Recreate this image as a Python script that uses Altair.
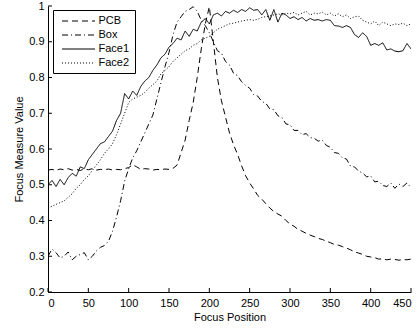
import altair as alt
import pandas as pd

# Focus positions (sampled every 5 units)
positions = list(range(0, 455, 5))

series_names = ["PCB", "Box", "Face1", "Face2"]

pcb = [0.541, 0.543, 0.540, 0.544, 0.542, 0.545, 0.541, 0.543, 0.540, 0.544,
       0.542, 0.545, 0.541, 0.543, 0.542, 0.544, 0.541, 0.543, 0.542, 0.545,
       0.548, 0.556, 0.550, 0.543, 0.545, 0.544, 0.541, 0.543, 0.542, 0.544,
       0.543, 0.546, 0.555, 0.590, 0.625, 0.680, 0.730, 0.800, 0.880, 0.950,
       0.998, 0.900, 0.800, 0.735, 0.690, 0.645, 0.612, 0.585, 0.553, 0.525,
       0.505, 0.488, 0.470, 0.460, 0.447, 0.435, 0.425, 0.418, 0.412, 0.400,
       0.390, 0.384, 0.375, 0.370, 0.364, 0.359, 0.355, 0.350, 0.347, 0.342,
       0.338, 0.333, 0.331, 0.327, 0.323, 0.318, 0.312, 0.309, 0.305, 0.300,
       0.298, 0.296, 0.292, 0.293, 0.290, 0.292, 0.291, 0.289, 0.291, 0.290,
       0.292]

box = [0.300, 0.320, 0.310, 0.295, 0.300, 0.312, 0.290, 0.300, 0.305, 0.310,
       0.290, 0.300, 0.315, 0.325, 0.330, 0.342, 0.370, 0.410, 0.455, 0.510,
       0.545, 0.575, 0.595, 0.620, 0.645, 0.670, 0.695, 0.740, 0.785, 0.830,
       0.870, 0.920, 0.955, 0.970, 0.985, 0.990, 0.998, 0.985, 0.960, 0.945,
       0.925, 0.900, 0.875, 0.868, 0.845, 0.835, 0.812, 0.805, 0.788, 0.778,
       0.770, 0.752, 0.748, 0.733, 0.728, 0.712, 0.710, 0.693, 0.688, 0.670,
       0.668, 0.652, 0.652, 0.640, 0.643, 0.632, 0.630, 0.622, 0.625, 0.610,
       0.605, 0.590, 0.588, 0.575, 0.572, 0.552, 0.550, 0.538, 0.533, 0.522,
       0.525, 0.508, 0.510, 0.498, 0.495, 0.505, 0.490, 0.502, 0.495, 0.505,
       0.492]

face1 = [0.500, 0.512, 0.495, 0.515, 0.500, 0.520, 0.532, 0.524, 0.550, 0.545,
         0.570, 0.585, 0.600, 0.615, 0.620, 0.635, 0.650, 0.680, 0.700, 0.755,
         0.740, 0.762, 0.750, 0.775, 0.790, 0.800, 0.820, 0.835, 0.855, 0.865,
         0.885, 0.895, 0.910, 0.905, 0.930, 0.915, 0.935, 0.930, 0.955, 0.965,
         0.950, 0.975, 0.980, 0.972, 0.985, 0.980, 0.988, 0.982, 0.990, 0.985,
         0.995, 0.988, 0.990, 0.975, 0.990, 0.960, 0.990, 0.955, 0.980, 0.975,
         0.965, 0.970, 0.962, 0.968, 0.958, 0.965, 0.960, 0.962, 0.958, 0.962,
         0.960, 0.945, 0.944, 0.940, 0.945, 0.940, 0.920, 0.912, 0.925, 0.915,
         0.890, 0.895, 0.890, 0.897, 0.877, 0.880, 0.874, 0.872, 0.875, 0.895,
         0.880]

face2 = [0.435, 0.440, 0.445, 0.450, 0.455, 0.465, 0.475, 0.490, 0.500, 0.515,
         0.525, 0.540, 0.555, 0.570, 0.588, 0.600, 0.615, 0.640, 0.670, 0.700,
         0.730, 0.740, 0.745, 0.750, 0.758, 0.770, 0.780, 0.790, 0.810, 0.820,
         0.830, 0.845, 0.855, 0.865, 0.875, 0.880, 0.890, 0.895, 0.905, 0.910,
         0.915, 0.925, 0.935, 0.940, 0.945, 0.950, 0.952, 0.955, 0.958, 0.960,
         0.962, 0.960, 0.963, 0.968, 0.970, 0.972, 0.975, 0.978, 0.975, 0.980,
         0.978, 0.982, 0.975, 0.980, 0.985, 0.975, 0.980, 0.978, 0.983, 0.975,
         0.980, 0.972, 0.978, 0.970, 0.975, 0.965, 0.970, 0.972, 0.960, 0.955,
         0.950, 0.958, 0.945, 0.955, 0.950, 0.945, 0.950, 0.948, 0.952, 0.945,
         0.950]

x_ticks = [0, 50, 100, 150, 200, 250, 300, 350, 400, 450]
y_ticks = [0.2, 0.3, 0.4, 0.5, 0.6, 0.7, 0.8, 0.9, 1.0]

rows = []
for name, vals in zip(series_names, [pcb, box, face1, face2]):
    for p, v in zip(positions, vals):
        rows.append({"pos": p, "val": v, "series": name})
df = pd.DataFrame(rows)

FONT = "Liberation Sans"
W, H = 363, 286

x_scale = alt.Scale(domain=[0, 450], nice=False, zero=False)
y_scale = alt.Scale(domain=[0.2, 1.0], nice=False, zero=False)
x_axis = alt.Axis(values=x_ticks, title="Focus Position", ticks=False,
                  labelPadding=5, titlePadding=3, format="d", labelOverlap=False)
y_axis = alt.Axis(values=y_ticks, title="Focus Measure Value", ticks=False,
                  labelPadding=4, titlePadding=4, format="~g", labelOverlap=False)

lines = alt.Chart(df).mark_line(color="black", strokeWidth=1, clip=True).encode(
    x=alt.X("pos:Q", scale=x_scale, axis=x_axis),
    y=alt.Y("val:Q", scale=y_scale, axis=y_axis),
    strokeDash=alt.StrokeDash(
        "series:N",
        scale=alt.Scale(domain=series_names,
                        range=[[6, 4], [6, 3, 1, 3], [1, 0], [1, 2]]),
        legend=alt.Legend(
            title=None, orient="none", legendX=5, legendY=4,
            symbolType="M-3,0H3", symbolSize=121, symbolOffset=14.5,
            symbolStrokeColor="black", symbolFillColor="transparent",
            symbolStrokeWidth=1, labelFont=FONT, labelFontSize=11,
            labelColor="black", rowPadding=3, padding=5, labelOffset=14,
            fillColor="white", strokeColor="black",
        ),
    ),
)

xt = alt.Chart(pd.DataFrame({"pos": x_ticks})).mark_rule(color="black", strokeWidth=1).encode(
    x=alt.X("pos:Q", scale=x_scale, axis=x_axis),
    y=alt.value(H),
    y2=alt.value(H - 4),
)
yt = alt.Chart(pd.DataFrame({"val": y_ticks})).mark_rule(color="black", strokeWidth=1).encode(
    y=alt.Y("val:Q", scale=y_scale, axis=y_axis),
    x=alt.value(0),
    x2=alt.value(4),
)

chart = alt.layer(lines, xt, yt).properties(
    width=W, height=H,
    autosize=alt.AutoSizeParams(type="none"),
    padding={"left": 48, "top": 6, "right": 9, "bottom": 37},
    background="white",
).configure_view(stroke=None).configure_axis(
    domainColor="black", domainWidth=1, grid=False,
    labelFont=FONT, labelFontSize=11, labelColor="black",
    titleFont=FONT, titleFontSize=11, titleFontWeight="normal", titleColor="black",
)

chart.save("out.html", embed_options={"renderer": "svg", "actions": False})
